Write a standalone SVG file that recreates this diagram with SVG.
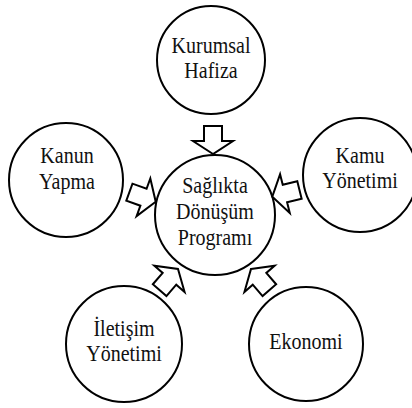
<svg xmlns="http://www.w3.org/2000/svg" width="412" height="408" viewBox="0 0 412 408">
<style>
.c{fill:#fff;stroke:#000;stroke-width:2}
.t{font-family:'Liberation Serif','Times New Roman',serif;font-size:23px;fill:#111;text-anchor:middle}
.a{fill:#fff;stroke:#000;stroke-width:2;stroke-linejoin:miter}
</style>
<defs>
<polygon id="arr" points="0,0 -13,20 -13,9 -28,9 -28,-9 -13,-9 -13,-20"/>
</defs>
<g id="n-center"><circle class="c" cx="215" cy="215" r="60"/>
<text class="t" transform="translate(215,0) scale(0.87,1)"><tspan x="0" y="193.5">Sağlıkta</tspan><tspan x="0" y="219">Dönüşüm</tspan><tspan x="0" y="245.5">Programı</tspan></text></g>
<g id="n-kurumsal"><circle class="c" cx="211" cy="60" r="54"/>
<text class="t" transform="translate(211,0) scale(0.87,1)"><tspan x="0" y="53.5">Kurumsal</tspan><tspan x="0" y="78.5">Hafiza</tspan></text></g>
<g id="n-kanun"><circle class="c" cx="66" cy="180" r="57"/>
<text class="t" transform="translate(67,0) scale(0.87,1)"><tspan x="0" y="163.5">Kanun</tspan><tspan x="0" y="189">Yapma</tspan></text></g>
<g id="n-kamu"><circle class="c" cx="360" cy="175" r="57"/>
<text class="t" transform="translate(360,0) scale(0.87,1)"><tspan x="0" y="163">Kamu</tspan><tspan x="0" y="188.5">Yönetimi</tspan></text></g>
<g id="n-iletisim"><circle class="c" cx="124" cy="344" r="58"/>
<text class="t" transform="translate(124,0) scale(0.87,1)"><tspan x="0" y="336.5">İletişim</tspan><tspan x="0" y="361.5">Yönetimi</tspan></text></g>
<g id="n-ekonomi"><circle class="c" cx="306" cy="344" r="57"/>
<text class="t" transform="translate(306,0) scale(0.87,1)" x="0" y="349.5">Ekonomi</text></g>
<g id="connectors">
<use href="#arr" class="a" transform="translate(213,154) rotate(90)"/>
<use href="#arr" class="a" transform="translate(155.7,201.7) rotate(20)"/>
<use href="#arr" class="a" transform="translate(272.3,196.7) rotate(166)"/>
<use href="#arr" class="a" transform="translate(178,269) rotate(-49)"/>
<use href="#arr" class="a" transform="translate(251,269) rotate(-131)"/>
</g>
</svg>
